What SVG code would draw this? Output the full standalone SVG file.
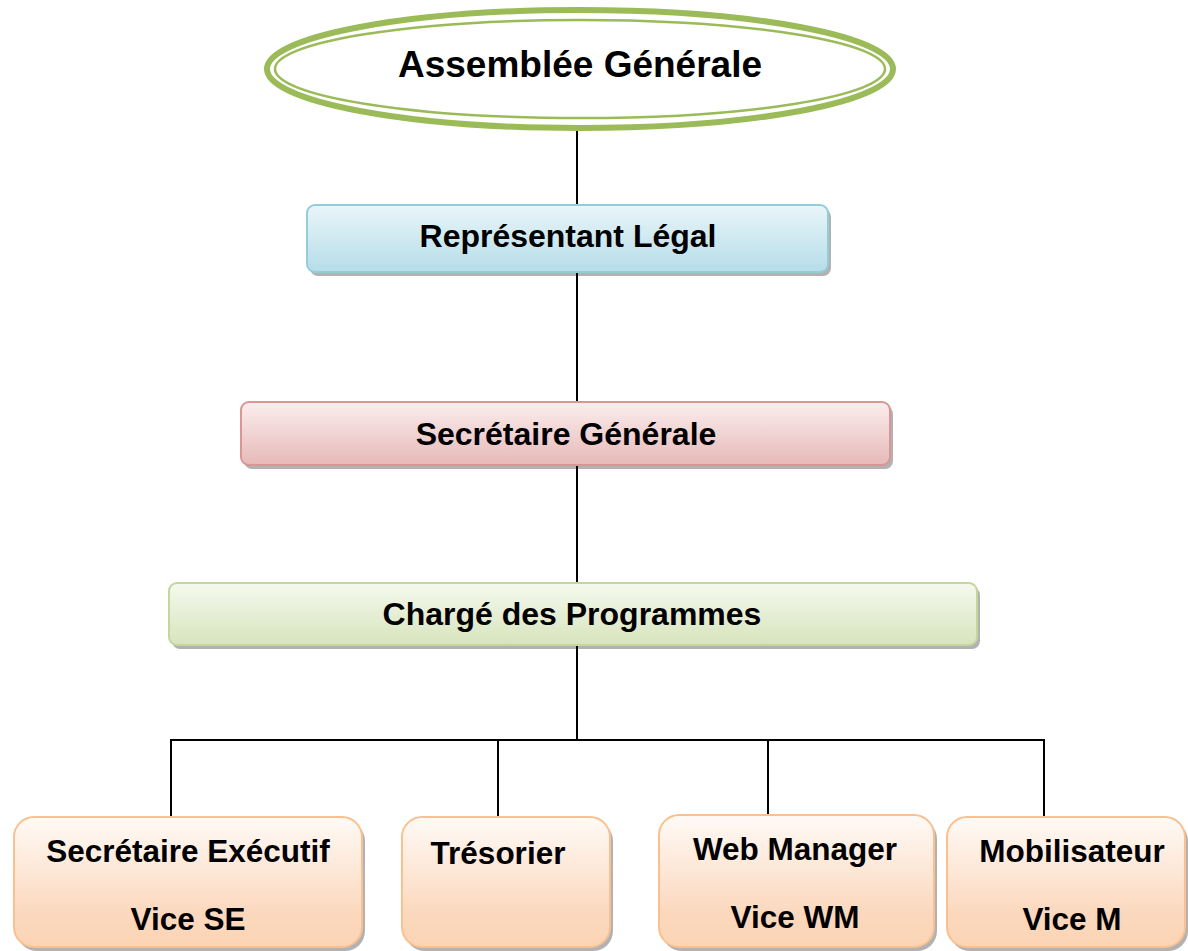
<svg xmlns="http://www.w3.org/2000/svg" width="1188" height="951" viewBox="0 0 1188 951">
<defs>
<linearGradient id="gBlue" x1="0" y1="0" x2="0" y2="1"><stop offset="0" stop-color="#e9f5f9"/><stop offset="1" stop-color="#b6dde8"/></linearGradient>
<linearGradient id="gPink" x1="0" y1="0" x2="0" y2="1"><stop offset="0" stop-color="#fbeeee"/><stop offset="1" stop-color="#e6b9b8"/></linearGradient>
<linearGradient id="gGreen" x1="0" y1="0" x2="0" y2="1"><stop offset="0" stop-color="#f5f9ee"/><stop offset="1" stop-color="#d7e4bd"/></linearGradient>
<linearGradient id="gOrange" x1="0" y1="0" x2="0" y2="1"><stop offset="0" stop-color="#fffaf6"/><stop offset="0.75" stop-color="#fbd8bd"/><stop offset="1" stop-color="#fbd4b4"/></linearGradient>
<style>
.t{font-family:"Liberation Sans",Arial,sans-serif;font-weight:bold;fill:#000;text-anchor:middle}
.conn{stroke:#000;stroke-width:2;fill:none}
.sh{fill:#000;fill-opacity:0.3}
</style>
</defs>
<rect width="1188" height="951" fill="#fff"/>
<g id="connectors">
<line class="conn" x1="577" y1="131" x2="577" y2="205"/>
<line class="conn" x1="577" y1="272" x2="577" y2="402"/>
<line class="conn" x1="577" y1="465" x2="577" y2="583"/>
<line class="conn" x1="577" y1="645" x2="577" y2="740"/>
<polyline class="conn" points="171,817 171,740 1044,740 1044,817"/>
<line class="conn" x1="498" y1="740" x2="498" y2="817"/>
<line class="conn" x1="768" y1="740" x2="768" y2="815"/>
</g>
<g id="assemblee">
<ellipse cx="580" cy="69" rx="313" ry="59" fill="#fff" stroke="#9bbb59" stroke-width="6"/>
<ellipse cx="580" cy="69" rx="305" ry="49" fill="none" stroke="#9bbb59" stroke-width="2.5"/>
<text class="t" x="580" y="77" font-size="37">Assemblée Générale</text>
</g>
<g id="representant">
<rect class="sh" x="310" y="209" width="521" height="67" rx="8"/>
<rect x="307" y="205" width="521" height="67" rx="8" fill="url(#gBlue)" stroke="#92cddc" stroke-width="2"/>
<text class="t" x="568" y="247" font-size="32">Représentant Légal</text>
</g>
<g id="secretaire-generale">
<rect class="sh" x="244" y="406" width="649" height="63" rx="8"/>
<rect x="241" y="402" width="649" height="63" rx="8" fill="url(#gPink)" stroke="#d99694" stroke-width="2"/>
<text class="t" x="566" y="445" font-size="32">Secrétaire Générale</text>
</g>
<g id="charge-programmes">
<rect class="sh" x="172" y="587" width="808" height="62" rx="8"/>
<rect x="169" y="583" width="808" height="62" rx="8" fill="url(#gGreen)" stroke="#c3d69b" stroke-width="2"/>
<text class="t" x="572" y="625" font-size="32">Chargé des Programmes</text>
</g>
<g id="secretaire-executif">
<rect class="sh" x="17" y="821" width="348" height="130" rx="20"/>
<rect x="14" y="817" width="348" height="130" rx="20" fill="url(#gOrange)" stroke="#fac090" stroke-width="2"/>
<text class="t" x="188" y="862" font-size="31.5">Secrétaire Exécutif</text>
<text class="t" x="188" y="930" font-size="31.5">Vice SE</text>
</g>
<g id="tresorier">
<rect class="sh" x="405" y="821" width="208" height="130" rx="20"/>
<rect x="402" y="817" width="208" height="130" rx="20" fill="url(#gOrange)" stroke="#fac090" stroke-width="2"/>
<text class="t" x="498" y="864" font-size="31.5">Trésorier</text>
</g>
<g id="web-manager">
<rect class="sh" x="662" y="819" width="275" height="132" rx="20"/>
<rect x="659" y="815" width="275" height="132" rx="20" fill="url(#gOrange)" stroke="#fac090" stroke-width="2"/>
<text class="t" x="795" y="860" font-size="31.5">Web Manager</text>
<text class="t" x="795" y="928" font-size="31.5">Vice WM</text>
</g>
<g id="mobilisateur">
<rect class="sh" x="950" y="821" width="238" height="130" rx="20"/>
<rect x="947" y="817" width="238" height="130" rx="20" fill="url(#gOrange)" stroke="#fac090" stroke-width="2"/>
<text class="t" x="1072" y="862" font-size="31.5">Mobilisateur</text>
<text class="t" x="1072" y="930" font-size="31.5">Vice M</text>
</g>
</svg>
